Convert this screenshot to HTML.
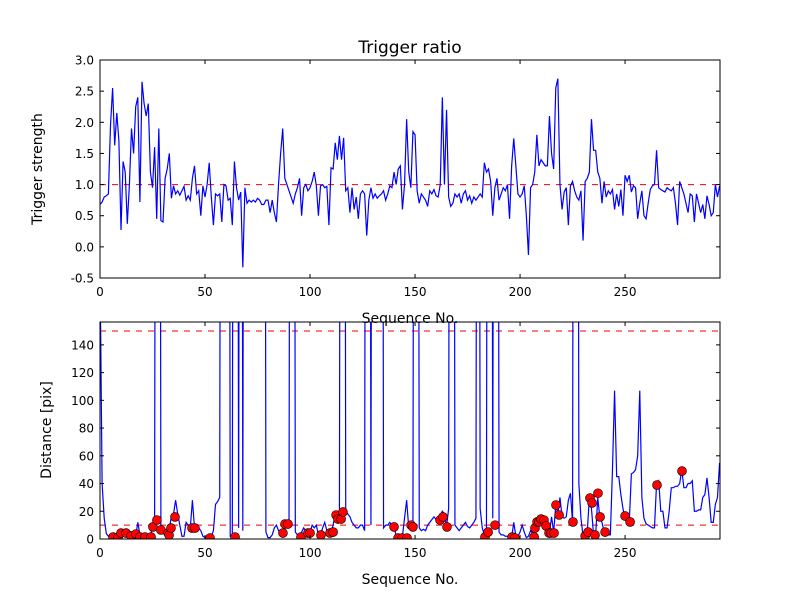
<!DOCTYPE html>
<html><head><meta charset="utf-8"><style>
body{margin:0;background:#fff;}
svg{display:block;font-family:"DejaVu Sans","Liberation Sans",sans-serif;}
</style></head><body>
<svg id="chart" width="800" height="600" viewBox="0 0 800 600">
<rect width="800" height="600" fill="#fff"/>
<defs>
<clipPath id="c1"><rect x="100" y="60" width="620" height="218"/></clipPath>
<clipPath id="c2"><rect x="100" y="322" width="620" height="217"/></clipPath>
</defs>
<g id="g"></g>
</svg>
<script>
const H = 1000;
const ratioValues = [0.68,0.72,0.8,0.82,0.85,1.95,2.55,1.63,2.15,1.7,0.27,1.37,1.2,0.37,1.0,1.9,1.5,2.25,2.4,0.72,2.65,2.3,2.1,2.3,1.2,0.95,1.6,0.45,1.9,0.42,0.4,1.1,1.25,1.5,0.78,0.98,0.85,0.9,0.83,0.9,0.97,0.75,0.82,0.75,1.1,1.3,0.85,0.9,0.5,0.98,0.8,1.0,1.35,0.8,0.35,0.85,0.82,0.85,0.4,1.0,0.98,0.75,0.78,0.35,1.37,0.95,0.75,0.88,-0.33,0.95,0.7,0.75,0.72,0.75,0.72,0.78,0.75,0.68,0.68,0.75,0.75,0.55,0.75,0.55,0.4,1.0,1.5,1.9,1.1,1.0,0.9,0.8,0.7,0.85,0.95,1.1,0.5,0.95,1.0,0.9,
0.95,1.05,1.2,0.98,0.5,0.98,1.0,0.95,0.97,0.35,1.27,1.25,1.67,1.4,1.78,1.4,1.75,0.9,0.95,0.55,0.95,0.6,0.8,0.45,0.85,0.9,0.85,0.18,0.75,0.95,0.78,0.85,0.78,0.82,0.85,0.9,0.75,0.85,0.98,0.95,1.2,1.0,1.25,1.3,0.6,1.0,2.05,1.2,0.95,1.85,1.8,0.9,0.7,0.85,0.8,0.75,0.65,0.9,0.85,0.92,0.82,0.8,1.0,2.4,1.0,2.2,0.8,0.65,0.7,0.85,0.8,0.85,0.7,0.85,0.9,0.75,0.82,0.7,0.8,0.75,0.8,0.85,0.8,1.35,1.2,1.25,1.05,0.5,0.95,1.1,0.75,0.85,0.95,0.9,1.0,0.45,1.3,1.74,
1.3,0.85,0.8,0.85,0.98,0.5,-0.13,0.95,1.0,1.2,1.8,1.3,1.4,1.35,1.3,1.3,2.1,1.5,1.25,2.55,2.7,1.0,0.6,0.88,0.95,0.35,0.98,1.05,0.9,0.8,0.75,0.9,0.1,1.05,1.1,1.2,2.05,1.55,1.55,1.2,1.1,0.7,1.05,0.8,0.9,0.85,0.92,0.6,0.85,0.65,0.92,0.5,1.15,1.05,1.15,0.88,0.98,0.95,0.45,0.7,0.9,0.5,0.45,0.7,0.92,0.98,1.0,1.55,0.95,0.92,0.9,0.88,0.95,0.92,0.9,0.95,0.7,0.35,1.05,0.95,0.85,0.7,0.55,0.85,0.82,0.4,0.85,0.7,0.55,0.68,0.45,0.82,0.68,0.5,0.55,1.0,0.8,0.98];
const distValues = [200,40,15,4,2,2,2,3,2,2,4,4,3,2,3,2,3,2,12,3,1,1,2,2,2,9,14,H,H,7,6,5,4,8,16,18,28,18,10,2,2,12,10,8,28,8,10,8,6,2,1,1,1,2,6,25,27,30,H,H,H,H,2,2,H,H,8,H,6,H,H,H,H,H,H,H,H,H,H,5,1,1,3,8,10,6,5,4,11,11,12,H,H,5,3,2,5,8,6,4,
5,10,8,10,3,3,8,12,6,5,5,10,18,17,18,H,H,20,18,16,12,10,8,8,10,10,6,H,H,10,H,H,H,H,H,8,10,10,12,10,9,2,3,1,2,15,28,8,10,9,H,H,8,6,7,6,10,12,14,16,14,13,17,20,18,9,22,H,H,10,8,6,8,10,12,9,8,10,12,15,H,22,8,3,5,H,H,15,H,H,5,3,3,2,2,2,
1,12,2,2,5,10,5,1,2,6,4,8,12,14,13,13,9,4,4,16,5,24,18,30,16,15,16,28,33,12,H,H,40,15,2,2,5,30,22,3,3,30,15,12,5,4,3,3,50,107,45,45,32,22,14,12,12,47,48,50,60,107,30,15,11,10,9,8,8,40,42,20,20,8,8,20,37,37,38,38,40,50,37,37,40,40,42,20,20,21,21,30,32,44,30,12,12,25,30,55];
const dotSeq = [6.2,8.6,10,12.4,14.8,17.1,19,21.4,24.3,25.2,27.1,29,32.4,32.9,33.8,35.7,43.8,45.2,52.4,64.3,87.1,88.1,89.5,95.7,99,100,105.2,109.5,111,112.4,113.3,114.8,115.7,140,141.9,143.8,146.2,148.1,149,161.9,163.3,165.2,183.3,184.8,188.1,196.2,197.6,206.7,207.1,208.1,209,210,211.4,212.4,213.8,214.8,216.2,217.1,218.6,225.2,231,232.4,233.3,234.3,235.7,237.1,238.1,240.5,250,252.4,265.2,277.1];
const dotDist = [1.4,1.4,4.3,4.3,2.2,3.6,1.4,1.4,1.4,8.7,13.7,6.5,4.3,2.9,7.9,15.9,7.9,7.9,0.7,1.4,4.3,10.8,10.8,1.4,4.3,4.3,2.9,4.3,5,17.3,14.4,14.4,19.5,8.7,0.7,0.7,0.7,10,8.7,13.7,15.9,8.7,1.4,5,10,1.4,0.7,1.4,7.9,12.3,12.3,14.4,13.7,9.4,4.3,4.3,4.3,24.5,17.3,12.3,2.2,5,29.5,26,2.9,33,15.9,5,16.6,12.3,38.9,49];
const xTicks = [0,50,100,150,200,250];
const topYTicks = ["-0.5","0.0","0.5","1.0","1.5","2.0","2.5","3.0"];
const botYTicks = [0,20,40,60,80,100,120,140];

const NS="http://www.w3.org/2000/svg";
const g=document.getElementById('g');
function el(tag,attrs,parent,text){const e=document.createElementNS(NS,tag);for(const k in attrs)e.setAttribute(k,attrs[k]);if(text!==undefined)e.textContent=text;(parent||g).appendChild(e);return e;}
const L=100,R=720,XMAX=295.2;
const xs=v=>L+(v/XMAX)*(R-L);
const y1=v=>278-(v+0.5)/3.5*218;
const y2=v=>539-v/156.5*217;

function axes(top,bot,name,ticks,yfun){
  const f=el('rect',{x:L,y:top,width:R-L,height:bot-top,fill:'none',stroke:'#000','stroke-width':1});
  
  xTicks.forEach(t=>{const x=xs(t);
    el('line',{x1:x,x2:x,y1:bot,y2:bot-4,stroke:'#000'});el('line',{x1:x,x2:x,y1:top,y2:top+4,stroke:'#000'});
    const tx=el('text',{x:x,y:bot+18,'font-size':12,'text-anchor':'middle'},g,String(t));
    });
  ticks.forEach(t=>{const y=yfun(parseFloat(t));
    el('line',{x1:L,x2:L+4,y1:y,y2:y,stroke:'#000'});el('line',{x1:R,x2:R-4,y1:y,y2:y,stroke:'#000'});
    const tx=el('text',{x:L-6,y:y+4.5,'font-size':12,'text-anchor':'end'},g,String(t));
    });
}
const gt=el('g',{'clip-path':'url(#c1)'});

const th=el('line',{x1:L,x2:R,y1:y1(1),y2:y1(1),stroke:'#e00','stroke-dasharray':'6,6'},gt);

const p1=el('polyline',{points:ratioValues.map((v,i)=>xs(i)+','+y1(v)).join(' '),fill:'none',stroke:'#00f','stroke-width':1.2},gt);

axes(60,278,'top',topYTicks,y1);
const gb=el('g',{'clip-path':'url(#c2)'});

[10,150].forEach(v=>{const l=el('line',{x1:L,x2:R,y1:y2(v),y2:y2(v),stroke:'#e00','stroke-dasharray':'6,6'},gb);
  });
const p2=el('polyline',{points:distValues.map((v,i)=>xs(i)+','+y2(v)).join(' '),fill:'none',stroke:'#00f','stroke-width':1.2},gb);

dotSeq.forEach((s,i)=>{const c=el('circle',{cx:xs(s),cy:y2(dotDist[i]),r:4.5,fill:'#f00',stroke:'#000','stroke-width':0.6},gb);
  });
axes(322,539,'bottom',botYTicks,y2);
let t;
t=el('text',{x:410,y:53,'font-size':17,'text-anchor':'middle'},g,'Trigger ratio');
t=el('text',{x:410,y:323,'font-size':14,'text-anchor':'middle'},g,'Sequence No.');
t=el('text',{x:410,y:584,'font-size':14,'text-anchor':'middle'},g,'Sequence No.');
t=el('text',{x:0,y:0,'font-size':14,'text-anchor':'middle',transform:'translate(42,169) rotate(-90)'},g,'Trigger strength');
t=el('text',{x:0,y:0,'font-size':14,'text-anchor':'middle',transform:'translate(51,430) rotate(-90)'},g,'Distance [pix]');
</script>
</body></html>
